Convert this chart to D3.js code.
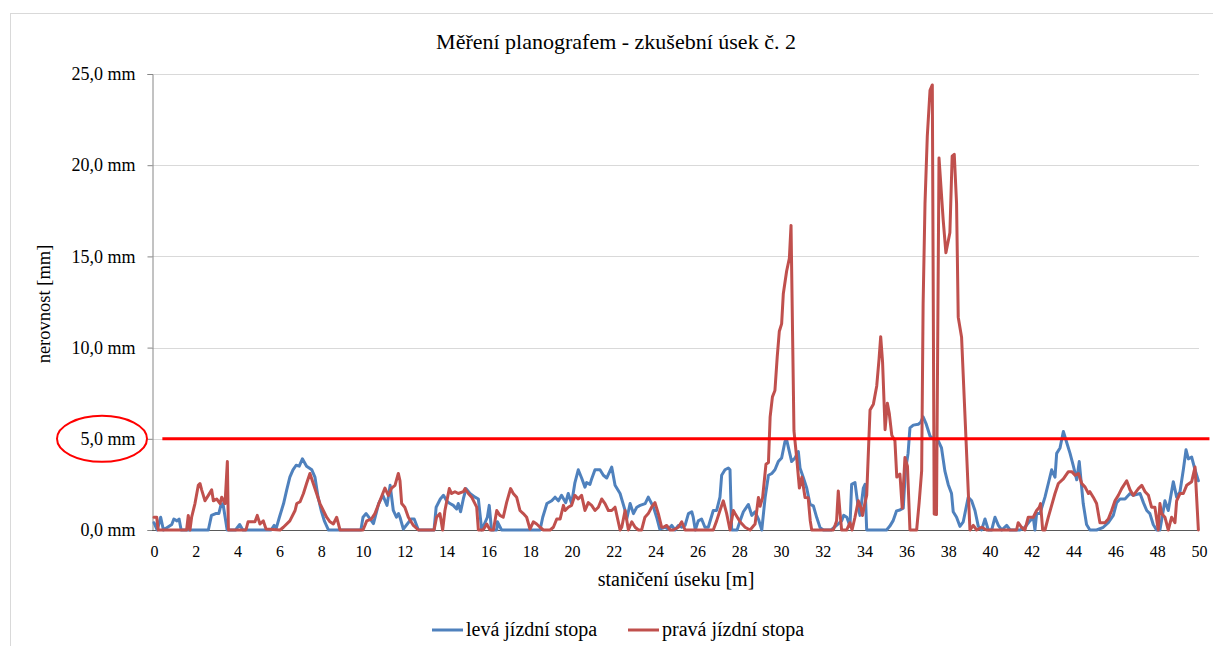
<!DOCTYPE html>
<html>
<head>
<meta charset="utf-8">
<script src="https://cdn.jsdelivr.net/npm/d3@7/dist/d3.min.js"></script>
<style>
  html, body { margin: 0; padding: 0; background: #fff; }
</style>
</head>
<body>
<svg id="chart" width="1213" height="646"></svg>
<script>
const chartTitle = "Měření planografem - zkušební úsek č. 2";
const xAxisTitle = "staničení úseku [m]";
const yAxisTitle = "nerovnost [mm]";
const seriesNames = ["levá jízdní stopa", "pravá jízdní stopa"];
const xTicks = d3.range(0, 51, 2);
const yTicks = [0, 5, 10, 15, 20, 25];
const thresholdValue = 5;
const thresholdExtent = [0.4, 50.5];

const leftStation = [0,0.15,0.32,0.45,0.85,0.95,1.1,1.2,1.3,2.6,2.75,2.95,3.1,3.2,3.3,3.5,3.9,4.1,4.25,5.6,5.75,5.85,6.0,6.2,6.35,6.5,6.65,6.8,6.95,7.1,7.3,7.55,7.7,7.85,8.0,8.15,8.35,9.9,10.0,10.15,10.35,10.5,10.75,10.95,11.15,11.3,11.45,11.6,11.7,11.77,11.93,12.1,12.3,12.45,12.65,13.4,13.5,13.7,13.85,14.0,14.16,14.32,14.48,14.56,14.67,14.8,14.93,15.12,15.36,15.52,15.68,15.95,16.04,16.15,16.4,16.43,16.63,18.47,18.6,18.8,19.03,19.19,19.35,19.5,19.7,19.82,19.98,20.14,20.3,20.46,20.62,20.7,20.86,20.94,21.1,21.34,21.5,21.66,21.9,22.06,22.3,22.54,22.62,22.78,22.94,23.1,23.26,23.5,23.65,23.9,24.05,24.2,24.45,24.61,24.77,24.93,25.09,25.25,25.41,25.57,25.73,25.8,25.9,26.04,26.2,26.36,26.52,26.76,26.92,27.08,27.16,27.32,27.48,27.56,27.64,27.9,28.04,28.2,28.44,28.6,28.76,28.92,29.08,29.24,29.4,29.56,29.71,29.87,30.03,30.19,30.27,30.4,30.51,30.67,30.83,30.91,31.07,31.23,31.39,31.55,31.71,31.87,32.03,32.4,32.9,33.0,33.15,33.3,33.38,33.54,33.7,33.78,33.94,34.02,34.1,35.05,35.2,35.36,35.53,35.69,35.85,35.95,36.08,36.17,36.33,36.57,36.68,36.8,36.95,37.13,37.29,37.52,37.68,37.84,38.0,38.16,38.24,38.4,38.56,38.72,38.96,39.12,39.28,39.44,39.6,39.76,39.92,40.08,40.24,40.4,40.56,40.8,40.96,41.43,41.67,41.91,42.07,42.15,42.23,42.39,42.63,42.79,42.95,43.11,43.19,43.35,43.51,43.67,43.83,43.99,44.15,44.27,44.46,44.62,44.78,45.1,45.42,45.66,45.9,46.06,46.22,46.46,46.7,46.86,47.18,47.34,47.5,47.65,47.81,47.97,48.13,48.37,48.53,48.77,48.93,49.09,49.25,49.38,49.49,49.65,49.81,49.97];
const leftValue = [0.4,0,0.7,0,0.3,0.6,0.5,0.6,0,0,0.8,0.9,0.9,1.35,1.45,0,0,0.3,0,0,0.25,0.1,0.7,1.45,2.2,2.9,3.3,3.55,3.5,3.9,3.5,3.3,2.9,1.8,1.07,0.5,0,0,0.7,0.9,0.6,0.35,1.45,1.9,1.35,2.45,1.07,0.7,0.9,0.7,0.05,0.3,0.6,0.6,0,0,1.25,1.7,1.9,1.6,1.45,1.35,1.15,1.45,1.0,1.7,2.27,2.0,1.8,1.7,0,0.7,1.35,0,0,0.45,0,0,0.7,1.45,1.6,1.8,1.6,1.9,1.5,2.0,1.45,2.6,3.3,2.85,2.35,2.6,2.5,2.8,3.3,3.3,3.0,2.85,3.45,2.45,2.0,1.07,0.6,1.45,0.9,1.25,1.35,1.45,1.8,1.25,0.7,0.05,0.15,0.05,0.25,0,0.25,0.15,0.25,0.9,1.0,0.7,0,0.5,0.6,0.15,0.15,1.07,1.07,1.8,3.0,3.3,3.4,3.3,0,0,0.5,1.0,1.4,0.8,1.0,0.6,0,1.78,3.0,3.1,3.3,3.75,3.95,4.85,4.95,4.3,3.75,3.95,4.3,3.4,2.87,2.3,1.41,1.32,0.68,0.13,0,0,0.5,0.8,0.7,0.2,2.5,2.6,1.2,0.8,2.3,2.5,0,0,0.2,0.5,1.05,1.1,1.2,3.2,4.2,5.6,5.75,5.8,5.9,6.2,5.8,5.15,5.0,4.9,4.5,3.24,2.5,2.0,1.0,0.7,0.2,0.45,1.8,1.6,1.07,0.2,0,0.6,0,0,0.7,0.25,0,0.25,0,0,0.15,0.5,0.7,0,0.9,0.9,1.8,2.55,3.3,2.9,4.2,4.5,5.4,4.8,4.2,3.5,2.75,3.75,1.45,0.3,0,0,0.15,0.4,0.8,1.5,1.7,1.7,2.0,1.9,2.0,1.5,1.07,0.9,0.3,0,0,1.6,1.07,2.65,1.8,2.1,3.3,4.4,3.9,4.0,3.3,2.7];

const rightStation = [0,0.13,0.2,1.56,1.64,1.72,1.8,1.96,2.12,2.2,2.28,2.44,2.6,2.76,2.84,3.0,3.16,3.24,3.4,3.51,3.56,4.4,4.5,4.83,4.94,5.07,5.23,5.36,6.03,6.19,6.5,6.75,6.83,6.99,7.15,7.3,7.46,7.62,7.78,7.94,8.1,8.26,8.42,8.58,8.74,8.9,10.0,10.18,10.4,10.57,10.81,11.05,11.21,11.37,11.53,11.69,11.77,11.85,12.0,12.17,12.41,12.65,13.4,13.52,13.68,13.81,13.92,14.13,14.24,14.4,14.56,14.8,14.88,15.04,15.2,15.44,15.52,15.75,15.92,16.08,16.24,16.4,16.55,16.71,16.87,17.06,17.19,17.35,17.51,17.67,17.83,17.99,18.15,18.31,18.47,18.63,18.95,19.11,19.27,19.43,19.59,19.67,19.82,19.98,20.14,20.3,20.46,20.62,20.78,20.94,21.1,21.26,21.42,21.58,21.74,21.9,22.06,22.3,22.38,22.54,22.7,22.86,23.02,23.18,23.33,23.49,23.65,23.81,23.97,24.13,24.29,24.37,24.53,24.69,24.85,25.09,25.25,25.41,25.65,26.76,26.92,27.08,27.24,27.4,27.56,27.72,27.8,28.04,28.28,28.52,28.76,28.92,29.0,29.12,29.28,29.4,29.48,29.59,29.71,29.82,29.92,30.03,30.11,30.27,30.4,30.48,30.62,30.75,30.88,31.0,31.15,31.3,31.4,31.47,32.5,32.6,32.66,32.74,32.82,32.9,33.14,33.3,33.4,33.54,33.7,33.83,33.9,34.02,34.1,34.26,34.42,34.58,34.69,34.77,34.86,34.98,35.09,35.18,35.3,35.45,35.54,35.69,35.8,35.93,36.05,36.17,36.49,36.61,36.73,36.8,36.89,37.0,37.13,37.24,37.33,37.44,37.56,37.76,37.89,38.08,38.19,38.29,38.4,38.48,38.64,39.04,39.2,39.36,39.6,39.84,41.27,41.35,41.51,41.67,41.83,42.07,42.23,42.36,42.42,42.52,42.63,42.79,42.95,43.11,43.27,43.51,43.75,43.91,44.07,44.23,44.39,44.55,44.71,44.78,44.94,45.1,45.26,45.5,45.66,45.82,45.98,46.14,46.3,46.54,46.62,46.7,46.86,47.1,47.26,47.42,47.58,47.73,47.89,48.05,48.13,48.21,48.37,48.53,48.69,48.85,48.93,49.09,49.25,49.41,49.65,49.81,49.97];
const rightValue = [0.7,0.7,0,0,0.8,0,0.7,1.45,2.45,2.55,2.2,1.6,1.9,2.2,1.6,1.7,1.45,1.8,1.45,3.75,0,0,0.45,0.45,0.8,0.33,0.5,0.05,0,0.15,0.5,1.07,1.45,1.55,2.0,2.55,3.1,2.55,2.0,1.45,1.07,0.7,0.45,0.33,0.7,0,0,0.5,0.6,0.9,1.6,2.3,1.9,2.3,2.45,3.1,2.7,1.45,1.25,0.7,0.25,0,0,0.7,0.9,0,1.07,2.27,2.0,2.1,2.0,2.1,2.27,2.0,1.8,1.25,0,0,0.33,0,0,1.07,0.8,0.7,1.5,2.27,2.0,1.8,1.07,0.9,0.7,0.05,0.45,0.33,0.15,0,0,0.15,0.6,0.6,1.35,1.07,1.25,1.35,1.9,1.7,1.9,1.07,1.5,1.35,1.07,1.25,1.7,1.45,1.07,1.07,1.25,0,0.15,1.07,0,0.45,0.15,0,0,0.7,0.9,1.25,1.5,0.9,0.15,0.15,0.25,0,0,0.15,0.45,0,0,0,0.5,1.07,1.6,0.9,0,1.07,0.9,0.45,0.15,0,0.33,1.78,1.3,1.78,3.6,3.7,6.2,7.3,7.65,9.5,10.9,11.3,12.95,14.2,14.9,16.7,5.44,3.97,2.3,2.9,1.78,1.77,0.5,0,0,0.3,0.5,2.14,1.0,0,0,0.4,0,0.7,1.6,1.2,0.8,1.5,1.9,6.58,6.9,7.9,9.35,10.6,9.2,5.5,6.95,6.4,5.2,4.9,2.9,3.07,1.2,3.97,3.5,0,0,1.5,3.24,12.4,17.9,21.6,24.1,24.4,0.88,0.85,20.4,17.0,15.2,16.3,20.5,20.6,17.9,11.67,10.57,0,0.25,0,0.15,0,0,0.4,0.15,0,0.7,0.7,1.07,1.25,1.45,0,0,0.7,1.35,2.0,2.55,2.8,3.2,3.2,3.0,3.1,2.55,2.35,2.0,2.1,1.8,1.45,0.4,0.4,0.6,1.07,1.6,1.9,2.27,2.7,2.45,2.2,1.9,2.27,2.45,2.1,1.9,1.25,1.25,0,1.45,0.9,0.7,0,0.7,0.4,1.6,2.0,2.0,2.45,2.65,3.45,0];

const colors = ["#4f81bd", "#c0504d"];
const FONT = "'Liberation Serif', 'DejaVu Serif', serif";

const svg = d3.select("#chart");
const x = d3.scaleLinear().domain([0, 50]).range([154, 1199]);
const y = d3.scaleLinear().domain([0, 25]).range([530, 74]);

// outer frame
svg.append("rect").attr("x", 10.5).attr("y", 13.5).attr("width", 1220).attr("height", 700)
  .attr("fill", "none").attr("stroke", "#d9d9d9").attr("stroke-width", 1);

function addText(attrs, size, txt) {
  const t = svg.append("text").attr("font-family", FONT).style("font-family", FONT)
    .style("font-size", size + "px").attr("fill", "#000").text(txt);
  Object.entries(attrs).forEach(([k, v]) => t.attr(k, v));
  return t;
}

// title
addText({x: 616, y: 49, "text-anchor": "middle"}, 22, chartTitle);

// gridlines
svg.append("g").selectAll("line").data(yTicks.filter(d => d > 0)).join("line")
  .attr("x1", 152).attr("x2", x(50)).attr("y1", d => Math.round(y(d)) + 0.5).attr("y2", d => Math.round(y(d)) + 0.5)
  .attr("stroke", "#d9d9d9").attr("stroke-width", 1);

// y axis
const yAxis = d3.axisLeft(y).tickValues(yTicks).tickSize(5).tickPadding(12)
  .tickFormat(d => d3.format(".1f")(d).replace(".", ",") + " mm");
const gy = svg.append("g").attr("transform", "translate(152.5,0)").call(yAxis)
  .attr("font-family", FONT);
gy.select(".domain").attr("stroke", "#868686");
gy.selectAll(".tick line").attr("stroke", "#868686");
gy.selectAll(".tick text").style("font-size", "18px").style("font-family", FONT).attr("fill", "#000");

// x axis
const xAxis = d3.axisBottom(x).tickValues(xTicks).tickSize(0).tickPadding(15).tickFormat(d => d);
const gx = svg.append("g").attr("transform", "translate(0,530.5)").call(xAxis)
  .attr("font-family", FONT);
gx.select(".domain").attr("stroke", "#595959").attr("d", `M152,0H${x(50)}`);
gx.selectAll(".tick text").style("font-size", "16px").style("font-family", FONT).attr("fill", "#000");

// axis titles
addText({x: 676, y: 586, "text-anchor": "middle"}, 20, xAxisTitle);
addText({transform: "translate(50,304) rotate(-90)", "text-anchor": "middle"}, 18.5, yAxisTitle);

// series
const line = d3.line().x(d => x(d[0])).y(d => y(d[1]));
const leftData = leftStation.map((s, i) => [s, leftValue[i]]);
const rightData = rightStation.map((s, i) => [s, rightValue[i]]);
svg.append("path").datum(leftData).attr("d", line).attr("fill", "none")
  .attr("stroke", colors[0]).attr("stroke-width", 3).attr("stroke-linejoin", "round").attr("stroke-linecap", "round");
svg.append("path").datum(rightData).attr("d", line).attr("fill", "none")
  .attr("stroke", colors[1]).attr("stroke-width", 3).attr("stroke-linejoin", "round").attr("stroke-linecap", "round");

// threshold line
svg.append("line").attr("x1", x(thresholdExtent[0])).attr("x2", x(thresholdExtent[1]))
  .attr("y1", y(thresholdValue)).attr("y2", y(thresholdValue))
  .attr("stroke", "#ff0000").attr("stroke-width", 3);

// ellipse around 5,0 mm label
svg.append("ellipse").attr("cx", 102).attr("cy", y(thresholdValue)).attr("rx", 45).attr("ry", 23)
  .attr("fill", "none").attr("stroke", "#ff0000").attr("stroke-width", 2);

// legend
const legendItems = [{x: 432, name: seriesNames[0], c: colors[0]}, {x: 628, name: seriesNames[1], c: colors[1]}];
legendItems.forEach(it => {
  svg.append("line").attr("x1", it.x).attr("x2", it.x + 31).attr("y1", 630).attr("y2", 630)
    .attr("stroke", it.c).attr("stroke-width", 3);
  addText({x: it.x + 34, y: 636}, 20, it.name);
});
</script>
</body>
</html>
